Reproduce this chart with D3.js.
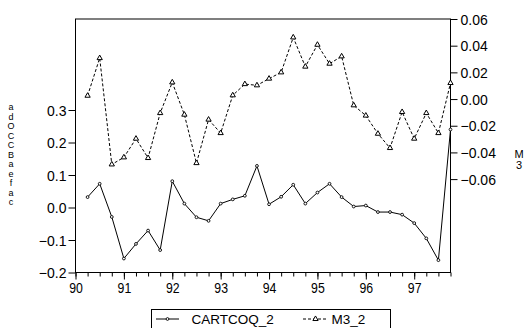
<!DOCTYPE html>
<html>
<head>
<meta charset="utf-8">
<script src="https://cdn.jsdelivr.net/npm/d3@7"></script>
<style>
  html, body { margin: 0; padding: 0; background: #fff; }
  svg { display: block; font-family: "Liberation Sans", Arial, sans-serif; }
</style>
</head>
<body>
<svg id="chart" width="527" height="328"></svg>
<script>
// Quarterly periods (1990Q2 .. 1997Q4)
const periods = [
  "1990Q2","1990Q3","1990Q4",
  "1991Q1","1991Q2","1991Q3","1991Q4",
  "1992Q1","1992Q2","1992Q3","1992Q4",
  "1993Q1","1993Q2","1993Q3","1993Q4",
  "1994Q1","1994Q2","1994Q3","1994Q4",
  "1995Q1","1995Q2","1995Q3","1995Q4",
  "1996Q1","1996Q2","1996Q3","1996Q4",
  "1997Q1","1997Q2","1997Q3","1997Q4"
];

// CARTCOQ_2 (left axis)
const cartcoq = [
  0.032, 0.073, -0.029,
  -0.157, -0.112, -0.071, -0.131,
  0.081, 0.012, -0.030, -0.041,
  0.012, 0.025, 0.036, 0.128,
  0.010, 0.033, 0.070, 0.012,
  0.046, 0.073, 0.032, 0.003,
  0.006, -0.014, -0.014, -0.022,
  -0.048, -0.095, -0.162, 0.240
];

// M3_2 (right axis)
const m3 = [
  0.0025, 0.0307, -0.0490,
  -0.0437, -0.0297, -0.0442, -0.0105,
  0.0125, -0.0117, -0.0480, -0.0154,
  -0.0255, 0.0028, 0.0112, 0.0103,
  0.0153, 0.0200, 0.0462, 0.0243,
  0.0407, 0.0265, 0.0320, -0.0047,
  -0.0124, -0.0260, -0.0367, -0.0097,
  -0.0297, -0.0105, -0.0255, 0.0120
];

const yearTicks = [90, 91, 92, 93, 94, 95, 96, 97];
const leftTicks = [-0.2, -0.1, 0.0, 0.1, 0.2, 0.3];
const rightTicks = [-0.06, -0.04, -0.02, 0.00, 0.02, 0.04, 0.06];
const leftLabelChars = ["a","d","O","C","C","B","a","e","f","a","c"];
const rightLabelChars = ["M","3"];
const seriesNames = ["CARTCOQ_2", "M3_2"];

// period string -> fractional two-digit year
const toYear = p => +p.slice(2, 4) + (+p.slice(5) - 1) / 4;

const svg = d3.select("#chart");
const box = { left: 75.5, right: 450.5, top: 19, bottom: 272.5 };

const x = d3.scaleLinear().domain([90, 97.75]).range([box.left, box.right]);
const yL = d3.scaleLinear().domain([-0.2, 0.58]).range([box.bottom, box.top]);
const yR = d3.scaleLinear().domain([-0.13, 0.06]).range([box.bottom, box.top]);

// frame
svg.append("rect")
  .attr("x", box.left).attr("y", box.top)
  .attr("width", box.right - box.left).attr("height", box.bottom - box.top)
  .attr("fill", "none").attr("stroke", "#000").attr("stroke-width", 1);

// left axis
const gL = svg.append("g").attr("transform", `translate(${box.left},0)`)
  .call(d3.axisLeft(yL).tickValues(leftTicks).tickFormat(d3.format(".1f")).tickSize(7).tickPadding(2));
// right axis
const gR = svg.append("g").attr("transform", `translate(${box.right},0)`)
  .call(d3.axisRight(yR).tickValues(rightTicks).tickFormat(d3.format(".2f")).tickSize(7).tickPadding(3));
// bottom axis: quarterly minor ticks + yearly labels
const quarterTicks = d3.range(0, 32).map(i => 90 + i / 4);
const gBm = svg.append("g").attr("transform", `translate(0,${box.bottom})`)
  .call(d3.axisBottom(x).tickValues(quarterTicks).tickFormat("").tickSize(4));
const gB = svg.append("g").attr("transform", `translate(0,${box.bottom})`)
  .call(d3.axisBottom(x).tickValues(yearTicks).tickFormat(d3.format("d")).tickSize(7).tickPadding(3));

[gL, gR, gBm, gB].forEach(g => {
  g.select(".domain").remove();
  g.selectAll(".tick line").attr("stroke", "#000");
  g.selectAll("text").attr("fill", "#000").attr("font-size", 14)
    .attr("font-family", "'Liberation Sans', Arial, sans-serif");
});
gL.selectAll(".tick text").attr("dy", "0.36em");
gR.selectAll(".tick text").attr("dy", "0.36em");
// year labels: tall, slightly condensed
gB.selectAll(".tick text").attr("font-size", 15).attr("x", 0)
  .attr("transform", "scale(0.82,1)");

// series
const pts = periods.map((p, i) => ({ t: toYear(p), a: cartcoq[i], b: m3[i] }));

const lineA = d3.line().x(d => x(d.t)).y(d => yL(d.a));
const lineB = d3.line().x(d => x(d.t)).y(d => yR(d.b));

svg.append("path").datum(pts).attr("d", lineB)
  .attr("fill", "none").attr("stroke", "#000").attr("stroke-width", 1)
  .attr("stroke-dasharray", "3,2");
svg.append("path").datum(pts).attr("d", lineA)
  .attr("fill", "none").attr("stroke", "#000").attr("stroke-width", 1);

const tri = d3.symbol().type(d3.symbolTriangle).size(12);
svg.append("g").selectAll("path").data(pts).join("path")
  .attr("d", tri)
  .attr("transform", d => `translate(${x(d.t)},${yR(d.b)})`)
  .attr("fill", "#fff").attr("stroke", "#000").attr("stroke-width", 1);

svg.append("g").selectAll("circle").data(pts).join("circle")
  .attr("cx", d => x(d.t)).attr("cy", d => yL(d.a)).attr("r", 1.4)
  .attr("fill", "#fff").attr("stroke", "#000").attr("stroke-width", 0.9);

// vertical stacked axis titles
svg.append("g").attr("font-size", 9).attr("text-anchor", "middle").attr("fill", "#000")
  .selectAll("text").data(leftLabelChars).join("text")
  .attr("x", 11).attr("y", (d, i) => 110 + i * 9.5).text(d => d);
svg.append("g").attr("font-size", 11).attr("text-anchor", "middle").attr("fill", "#000")
  .selectAll("text").data(rightLabelChars).join("text")
  .attr("x", 519).attr("y", (d, i) => 158 + i * 10.5).text(d => d);

// legend
const lg = svg.append("g");
lg.append("rect").attr("x", 151.5).attr("y", 309.5).attr("width", 239).attr("height", 30)
  .attr("fill", "none").attr("stroke", "#000").attr("stroke-width", 1);
lg.append("line").attr("x1", 156).attr("x2", 179).attr("y1", 319).attr("y2", 319)
  .attr("stroke", "#000");
lg.append("circle").attr("cx", 167.5).attr("cy", 319).attr("r", 1.4)
  .attr("fill", "#fff").attr("stroke", "#000").attr("stroke-width", 0.9);
lg.append("text").attr("x", 191.5).attr("y", 323.5).attr("font-size", 13.5).text(seriesNames[0]);
lg.append("line").attr("x1", 303).attr("x2", 328).attr("y1", 319).attr("y2", 319)
  .attr("stroke", "#000").attr("stroke-dasharray", "3,2");
lg.append("path").attr("d", tri).attr("transform", "translate(315.5,319)")
  .attr("fill", "#fff").attr("stroke", "#000");
lg.append("text").attr("x", 331.5).attr("y", 323.5).attr("font-size", 13.5).text(seriesNames[1]);
</script>
</body>
</html>
